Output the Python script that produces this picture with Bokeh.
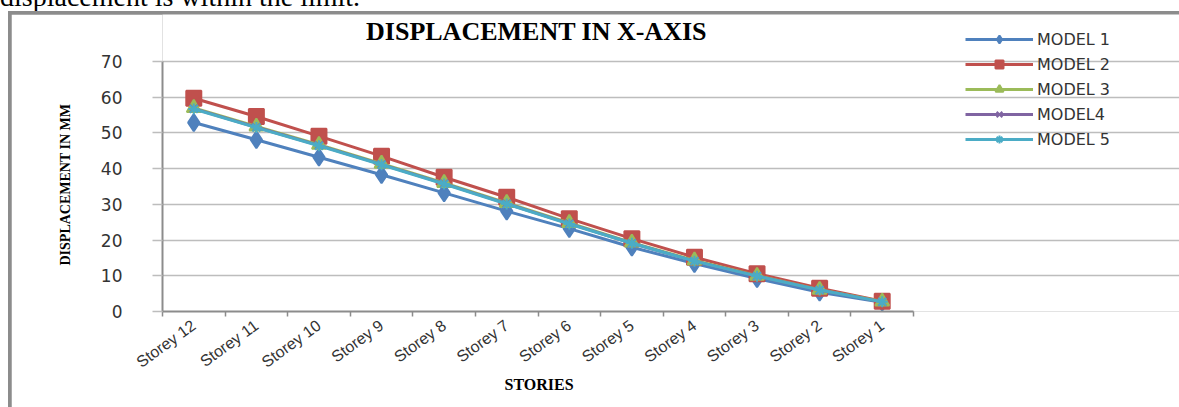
from bokeh.plotting import figure
from bokeh.models import FixedTicker, Legend, LegendItem, Range1d, Label, Div, Title
from bokeh.layouts import column
from bokeh.embed import file_html
from bokeh.resources import INLINE
import math

categories = ["Storey 12", "Storey 11", "Storey 10", "Storey 9", "Storey 8", "Storey 7",
              "Storey 6", "Storey 5", "Storey 4", "Storey 3", "Storey 2", "Storey 1"]
model1 = [52.9, 48.1, 43.2, 38.3, 33.2, 28.1, 23.2, 18.0, 13.4, 9.2, 5.4, 2.6]
model2 = [59.7, 54.6, 49.1, 43.5, 37.6, 32.0, 26.0, 20.4, 15.2, 10.6, 6.5, 2.9]
model3 = [57.0, 51.8, 46.7, 41.4, 36.0, 30.4, 24.8, 19.3, 14.3, 10.0, 6.1, 2.8]
model4 = [56.8, 51.6, 46.5, 41.2, 35.8, 30.2, 24.6, 19.1, 14.1, 9.9, 6.0, 2.7]
model5 = [56.7, 51.5, 46.4, 41.1, 35.7, 30.1, 24.5, 19.1, 14.1, 9.9, 6.0, 2.7]
series_names = ["MODEL 1", "MODEL 2", "MODEL 3", "MODEL4", "MODEL 5"]
y_ticks = [0, 10, 20, 30, 40, 50, 60, 70]
y_max = 70

n = len(categories)
xs = [i + 0.5 for i in range(n)]

# geometry (pixels)
W, H = 1168, 393
border_left, border_bottom = 151, 96
plot_w, plot_h = 751, 250          # the chart's own axis box
frame_w, frame_h = W - border_left, H - border_bottom
x_end = n * frame_w / plot_w
y_end = y_max * frame_h / plot_h

p = figure(width=W, height=H, output_backend="svg", toolbar_location=None,
           x_range=Range1d(0, x_end), y_range=Range1d(0, y_end),
           min_border_left=border_left, min_border_right=0, min_border_top=0,
           min_border_bottom=border_bottom, margin=(3, 0, 0, 3))
p.outline_line_color = None
p.background_fill_color = "white"
p.border_fill_color = "white"

p.xgrid.visible = False
p.ygrid.grid_line_color = "#bdbdbd"
p.ygrid.grid_line_width = 1.5
p.ygrid.ticker = FixedTicker(ticks=y_ticks)
p.ygrid.bounds = (0, n)

p.yaxis.ticker = FixedTicker(ticks=y_ticks)
p.yaxis.bounds = (0, y_max)
p.yaxis.axis_line_color = "#8c8c8c"
p.yaxis.axis_line_width = 2
p.yaxis.major_tick_line_color = "#bdbdbd"
p.yaxis.major_tick_line_width = 1.5
p.yaxis.major_tick_out = 10
p.yaxis.major_tick_in = 0
p.yaxis.minor_tick_line_color = None
p.yaxis.major_label_standoff = 30
p.yaxis.major_label_text_font = "DejaVu Sans"
p.yaxis.major_label_text_font_size = "17px"
p.yaxis.major_label_text_color = "#333333"

p.xaxis.ticker = FixedTicker(ticks=xs, minor_ticks=list(range(n + 1)))
p.xaxis.bounds = (0, n)
p.xaxis.major_label_overrides = {x: c for x, c in zip(xs, categories)}
p.xaxis.major_label_orientation = math.radians(36)
p.xaxis.major_label_text_font = "Liberation Sans"
p.xaxis.major_label_text_font_size = "16px"
p.xaxis.major_label_text_color = "#333333"
p.xaxis.major_label_standoff = 6
p.xaxis.major_tick_line_color = None
p.xaxis.minor_tick_line_color = "#8c8c8c"
p.xaxis.minor_tick_line_width = 1.5
p.xaxis.minor_tick_out = 5
p.xaxis.minor_tick_in = 0
p.xaxis.axis_line_color = "#8c8c8c"
p.xaxis.axis_line_width = 2

# axis titles, aligned on the chart's own axis box
p.add_layout(Title(text="STORIES", align="left", offset=342, standoff=-14,
                   text_font="Liberation Serif", text_font_size="16px",
                   text_font_style="bold", text_color="black"), "below")
p.add_layout(Title(text="DISPLACEMENT IN MM", align="left", offset=46, standoff=50,
                   text_font="Liberation Serif", text_font_size="14px",
                   text_font_style="bold", text_color="black"), "left")

colors = ["#4F81BD", "#C0504D", "#9BBB59", "#8064A2", "#4BACC6"]
markers = ["diamond", "square", "triangle", "x", "asterisk"]
sizes = [17, 15, 14, 11, 11]
data = [model1, model2, model3, model4, model5]

items = []
for name, ys, c, m, s in zip(series_names, data, colors, markers, sizes):
    l = p.line(xs, ys, line_color=c, line_width=3)
    sc = p.scatter(xs, ys, marker=m, size=s, fill_color=c, line_color=c, line_width=2)
    items.append(LegendItem(label=name, renderers=[l, sc]))

legend = Legend(items=items, location=(803, 162), orientation="vertical",
                glyph_width=68, glyph_height=20, spacing=5, padding=0, margin=0,
                label_text_font="DejaVu Sans", label_text_font_size="16px",
                label_text_color="#333333", label_standoff=4,
                border_line_color=None, background_fill_alpha=0)
p.add_layout(legend, "center")

p.add_layout(Label(x=plot_w / 2 + 5, y=plot_h + 30, x_units="screen", y_units="screen",
                   text="DISPLACEMENT  IN  X-AXIS", text_align="center",
                   text_baseline="middle", text_font="Liberation Serif",
                   text_font_size="26px", text_font_style="bold", text_color="black"))

caption = Div(text='<div style="position:relative; top:-17px; font-family:\'Liberation Serif\';'
                   ' font-size:28px; line-height:28px; white-space:nowrap; color:black;">'
                   'displacement is within the limit.</div>',
              width=1179, height=11, margin=0,
              styles={"overflow": "hidden"})

framed = column(p, margin=(0, 0, 0, 8), spacing=0,
                styles={"background-color": "#8c8c8c"})
root = column(caption, framed, margin=0, spacing=0)

open("out.html", "w").write(file_html(root, INLINE))
